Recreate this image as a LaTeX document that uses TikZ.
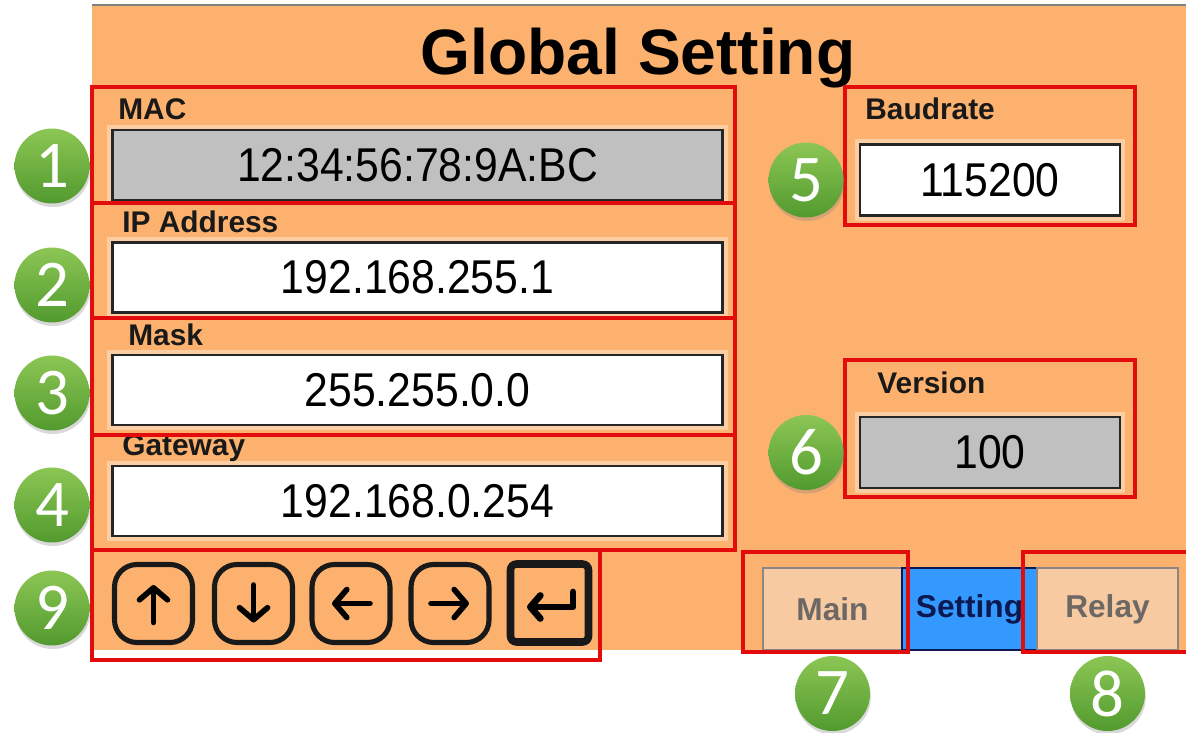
\documentclass[tikz,border=0pt]{standalone}
\usepackage{fontspec}
\setmainfont{Liberation Sans}
\newfontfamily\valuefont[FakeStretch=0.9]{Liberation Sans}
\newfontfamily\badgefont{Carlito}
\usetikzlibrary{positioning,arrows.meta,shadows}

\definecolor{panelbg}{RGB}{252,178,110}
\definecolor{bevel}{RGB}{250,206,162}
\definecolor{fieldgray}{RGB}{192,192,192}
\definecolor{hlred}{RGB}{226,12,12}
\definecolor{badgetop}{RGB}{140,198,85}
\definecolor{badgebot}{RGB}{82,154,46}
\definecolor{tabpeach}{RGB}{248,202,162}
\definecolor{tabblue}{RGB}{51,153,255}
\definecolor{tabtext}{RGB}{110,104,100}
\definecolor{navy}{RGB}{12,24,80}

\begin{document}
\begin{tikzpicture}[x=0.02cm, y=-0.02cm]
\tikzset{
    field/.style={rectangle, draw=black!85, line width=1.3pt, fill=white, minimum width=12.2cm, minimum height=1.4cm, inner sep=0pt, font=\valuefont\fontsize{27}{30}\selectfont, preaction={draw=bevel, line width=6pt}},
    readonly/.style={field, fill=fieldgray},
    fieldname/.style={anchor=base west, inner sep=0pt, font=\bfseries\fontsize{17}{20}\selectfont, text=black!90},
    title/.style={anchor=base, font=\bfseries\fontsize{36.5}{40}\selectfont},
    badge/.style={circle, minimum size=1.5cm, inner sep=0pt, top color=badgetop, bottom color=badgebot, text=white, font=\badgefont\fontsize{38}{40}\selectfont, drop shadow={shadow xshift=0.5pt, shadow yshift=-2pt, opacity=0.3}},
    hl/.style={draw=hlred, line width=2.2pt},
    key/.style={rectangle, rounded corners=0.45cm, draw=black!90, line width=2.9pt, minimum width=1.56cm, minimum height=1.56cm, inner sep=0pt},
    enterkey/.style={key, rounded corners=0.12cm, line width=4.3pt},
    glyph/.style={line width=3.2pt, line cap=round, line join=round, -{Straight Barb[round, length=0.24cm, width=0.56cm]}},
    tab/.style={rectangle, draw=tabtext!80, line width=0.8pt, fill=tabpeach, minimum width=2.78cm, minimum height=1.64cm, inner sep=0pt, text=tabtext, font=\bfseries\fontsize{18}{20}\selectfont},
    activetab/.style={tab, fill=tabblue, draw=navy, line width=1.4pt, text=navy}
}
\useasboundingbox (0,0) rectangle (1186,733);

% Панель
\fill[panelbg] (92,6) rectangle (1186,650);
\draw[gray, line width=1.2pt] (92,5) -- (1186,5);
\node[title] (title) at (638,75) {Global Setting};

% Поля мережі
\node[readonly] (mac) at (417.5,165) {12:34:56:78:9A:BC};
\node[field] (ip) at (417.5,277.5) {192.168.255.1};
\node[field] (mask) at (417.5,390) {255.255.0.0};
\node[field] (gw) at (417.5,501) {192.168.0.254};

\node[fieldname] (maclbl) at (118,120) {MAC};
\node[fieldname] (iplbl) at (122,233) {IP Address};
\node[fieldname] (masklbl) at (128,345) {Mask};
\node[fieldname] (gwlbl) at (122,455) {Gateway};

% Поля праворуч
\node[field, minimum width=5.2cm, minimum height=1.42cm] (baud) at (990,180) {115200};
\node[readonly, minimum width=5.2cm, minimum height=1.42cm] (ver) at (990,452.5) {100};
\node[fieldname] (baudlbl) at (865,120) {Baudrate};
\node[fieldname] (verlbl) at (877,393) {Version};

% Кнопки
\node[key] (kup) at (153.5,603.5) {};
\node[key] (kdown) at (253.5,603.5) {};
\node[key] (kleft) at (351,603.5) {};
\node[key] (kright) at (450,603.5) {};
\node[enterkey] (kenter) at (549.5,603) {};

\draw[glyph] ([yshift=-0.38cm]kup.center) -- ([yshift=0.37cm]kup.center);
\draw[glyph] ([yshift=0.37cm]kdown.center) -- ([yshift=-0.38cm]kdown.center);
\draw[glyph] ([xshift=0.38cm]kleft.center) -- ([xshift=-0.38cm]kleft.center);
\draw[glyph] ([xshift=-0.38cm]kright.center) -- ([xshift=0.38cm]kright.center);
\draw[glyph, line width=3.8pt, -{Straight Barb[round, length=0.2cm, width=0.46cm]}] ([xshift=0.47cm,yshift=0.22cm]kenter.center) |- ([xshift=-0.45cm,yshift=-0.08cm]kenter.center);

% Вкладки
\node[tab] (maintab) at (832.5,609) {Main};
\node[activetab, minimum width=2.7cm] (settab) at (969.5,609) {Setting};
\node[tab, minimum width=2.82cm] (relaytab) at (1107.5,609) {Relay};

% Червоні рамки
\draw[hl] (92,87) rectangle (735,203);
\draw[hl] (92,203) rectangle (735,318);
\draw[hl] (92,318) rectangle (735,435);
\draw[hl] (92,435) rectangle (735,550);
\draw[hl] (92,550) rectangle (600,660);
\draw[hl] (845,87) rectangle (1135,225);
\draw[hl] (845,360) rectangle (1135,497);
\draw[hl] (743,552) rectangle (908,652);
\draw[hl] (1023,552) rectangle (1195,652);

% Номери
\node[badge] (n1) at (52,166) {1};
\node[badge] (n2) at (52,285) {2};
\node[badge] (n3) at (52,393) {3};
\node[badge] (n4) at (52,505) {4};
\node[badge, left=0.3cm of baud] (n5) {5};
\node[badge, left=0.3cm of ver] (n6) {6};
\node[badge, below=0.1cm of maintab] (n7) {7};
\node[badge, below=0.1cm of relaytab] (n8) {8};
\node[badge] (n9) at (52,608) {9};
\end{tikzpicture}
\end{document}
